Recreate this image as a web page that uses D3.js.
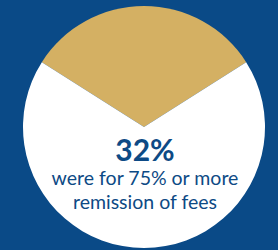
<!DOCTYPE html>
<html><head><meta charset="utf-8">
<script src="https://cdn.jsdelivr.net/npm/d3@7"></script>
<style>html,body{margin:0;padding:0;background:#0a4a87;}</style>
</head><body>
<svg id="c" width="278" height="250"></svg>
<script>
const categories = ["75% or more remission", "Other"];
const values = [32, 68];
const colors = ["#d4b063", "#ffffff"];
const bigLabel = "32%";
const captionLines = ["were for 75% or more", "remission of fees"];

const svg = d3.select("#c");
svg.append("rect").attr("width",278).attr("height",250).attr("fill","#0a4a87");
const cx = 144, cy = 127, r = 121;
const g = svg.append("g").attr("transform",`translate(${cx},${cy})`);
const share = values[0]/d3.sum(values)*2*Math.PI;
const pie = d3.pie().sort(null).value(d=>d).startAngle(-share/2).endAngle(2*Math.PI - share/2);
const arc = d3.arc().innerRadius(0).outerRadius(r);
g.selectAll("path").data(pie(values)).join("path")
  .attr("d",arc).attr("fill",(d,i)=>colors[i]);
const ff = "Lato, 'Open Sans', sans-serif";
svg.append("text").attr("x",145).attr("y",161).attr("text-anchor","middle")
  .attr("font-family",ff).attr("font-weight","bold").attr("font-size",30)
  .attr("fill","#0d4a85").text(bigLabel);
captionLines.forEach((t,i)=>{
  svg.append("text").attr("x",145).attr("y",185+i*24).attr("text-anchor","middle")
    .attr("font-family",ff).attr("font-size",19.5).attr("fill","#0d4a85").text(t);
});
</script>
</body></html>
